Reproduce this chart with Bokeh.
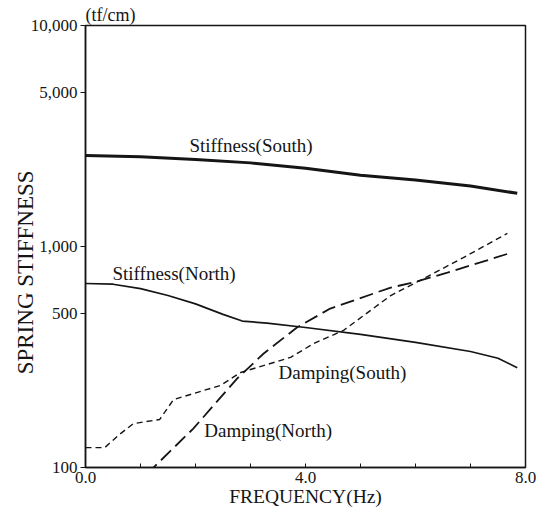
import math
from bokeh.plotting import figure
from bokeh.models import Range1d, FixedTicker, NumeralTickFormatter, PrintfTickFormatter, Label
from bokeh.embed import file_html
from bokeh.resources import INLINE

# ---- data ----
freq_stiff_south = [0.0, 1.0, 2.0, 3.0, 4.0, 5.0, 6.0, 7.0, 7.85]
stiff_south = [2580, 2545, 2475, 2390, 2260, 2100, 2000, 1880, 1740]

freq_stiff_north = [0.0, 0.5, 1.0, 1.5, 2.0, 2.5, 2.85, 3.3, 4.0, 5.0, 6.0, 7.0, 7.5, 7.85]
stiff_north = [680, 675, 645, 600, 550, 493, 460, 450, 430, 400, 368, 335, 312, 283]

freq_damp_south = [0.0, 0.35, 0.6, 0.87, 1.35, 1.6, 2.45, 2.82, 3.73, 4.15, 4.69, 5.55, 6.15, 6.87, 7.67]
damp_south = [123, 123, 140, 158, 165, 203, 235, 269, 315, 364, 417, 600, 716, 891, 1146]

freq_damp_north = [1.1, 1.22, 1.96, 2.76, 3.24, 3.85, 4.45, 5.55, 5.96, 6.58, 7.18, 7.69]
damp_north = [94, 99, 150, 253, 328, 431, 524, 652, 687, 762, 847, 929]

y_ticks = [100, 500, 1000, 5000, 10000]
x_ticks = [0, 4, 8]
x_minor_ticks = [1, 2, 3, 5, 6, 7]

FONT = "Liberation Serif"
INK = "#151515"

p = figure(width=549, height=515, y_axis_type="log",
           x_range=Range1d(0, 8), y_range=Range1d(100, 10000),
           output_backend="svg", toolbar_location=None,
           min_border_left=85, min_border_right=24,
           min_border_top=25, min_border_bottom=48)
p.xgrid.visible = False
p.ygrid.visible = False
p.outline_line_color = INK
p.outline_line_width = 1.5
p.background_fill_color = "white"
p.border_fill_color = "white"

# unit text above the frame
p.title.text = "(tf/cm)"
p.title.align = "left"
p.title.text_font = FONT
p.title.text_font_size = "18px"
p.title.text_font_style = "normal"
p.title.text_color = INK
p.title.standoff = 1
p.title.offset = 0

# axes
p.xaxis.ticker = FixedTicker(ticks=x_ticks, minor_ticks=x_minor_ticks)
p.xaxis.formatter = PrintfTickFormatter(format="%.1f")
p.xaxis.major_tick_in = 4
p.xaxis.major_tick_out = 0
p.xaxis.minor_tick_in = 4
p.xaxis.minor_tick_out = 0
p.xaxis.major_label_standoff = 4
p.xaxis.axis_label = "FREQUENCY(Hz)"
p.xaxis.axis_label_standoff = 0

p.yaxis.ticker = FixedTicker(ticks=y_ticks, minor_ticks=[])
p.yaxis.formatter = NumeralTickFormatter(format="0,0")
p.yaxis.major_tick_in = 0
p.yaxis.major_tick_out = 5
p.yaxis.minor_tick_in = 0
p.yaxis.minor_tick_out = 0
p.yaxis.major_label_standoff = 3
# trailing no-break spaces push the visible title down along the axis
p.yaxis.axis_label = "SPRING STIFFNESS" + "\u00a0" * 9
p.yaxis.axis_label_standoff = -10

for ax in (p.xaxis, p.yaxis):
    ax.axis_line_color = INK
    ax.axis_line_width = 1.5
    ax.major_tick_line_color = INK
    ax.minor_tick_line_color = INK
    ax.major_label_text_font = FONT
    ax.major_label_text_font_size = "17px"
    ax.major_label_text_color = INK
    ax.axis_label_text_font = FONT
    ax.axis_label_text_font_style = "normal"
    ax.axis_label_text_color = INK
p.xaxis.axis_label_text_font_size = "19.5px"
p.yaxis.axis_label_text_font_size = "23px"

# curves
p.line(freq_stiff_south, stiff_south, line_color=INK, line_width=3)
p.line(freq_stiff_north, stiff_north, line_color=INK, line_width=1.7)
p.line(freq_damp_south, damp_south, line_color=INK, line_width=1.4, line_dash="6 4")
p.line(freq_damp_north, damp_north, line_color=INK, line_width=1.8, line_dash="14 6")

# curve labels (positions in data coordinates)
def lab(x, y, t, size="19px", align="left", **kw):
    p.add_layout(Label(x=x, y=y, text=t, text_font=FONT, text_font_size=size,
                       text_color=INK, text_baseline="middle", text_align=align, **kw))

lab(1.89, 2866, "Stiffness(South)")
lab(0.49, 755, "Stiffness(North)")
lab(3.51, 269, "Damping(South)")
lab(2.16, 147, "Damping(North)")

open("out.html", "w").write(file_html(p, INLINE))
